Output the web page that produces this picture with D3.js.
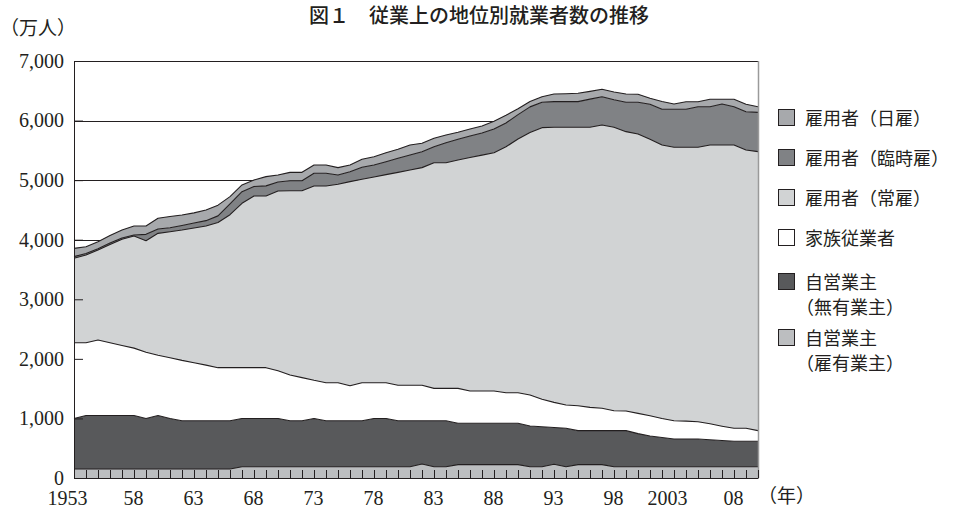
<!DOCTYPE html>
<html>
<head>
<meta charset="utf-8">
<script src="https://cdn.jsdelivr.net/npm/d3@7/dist/d3.min.js"></script>
<style>
  body { margin: 0; background: #fff; }
  svg { display: block; }
  text { font-family: "Liberation Serif", "Noto Sans CJK JP", serif; fill: #231f20; }
  .jp { font-family: "Noto Sans CJK JP", sans-serif; }
</style>
</head>
<body>
<svg id="chart" width="956" height="509"></svg>
<script>
// DATA (万人)
const years = [1953, 1954, 1955, 1956, 1957, 1958, 1959, 1960, 1961, 1962,
  1963, 1964, 1965, 1966, 1967, 1968, 1969, 1970, 1971, 1972,
  1973, 1974, 1975, 1976, 1977, 1978, 1979, 1980, 1981, 1982,
  1983, 1984, 1985, 1986, 1987, 1988, 1989, 1990, 1991, 1992,
  1993, 1994, 1995, 1996, 1997, 1998, 1999, 2000, 2001, 2002,
  2003, 2004, 2005, 2006, 2007, 2008, 2009, 2010];

// 自営業主（雇有業主）
const koyuGyoshu = [150, 150, 150, 150, 150, 150, 150, 150, 150, 150, 150, 150, 150, 150,
  190, 190, 190, 190, 190, 190, 190, 190, 190, 190, 190, 190, 190, 190, 190,
  235, 190, 190,
  225, 225, 225, 225, 225, 225,
  190, 190, 230, 190,
  225, 225, 225,
  190, 190, 190, 190, 190, 190, 190, 190, 190, 190, 190, 190, 190];

// 自営業主（無有業主）
const muyuGyoshu = [850, 900, 900, 900, 900, 900, 850, 900, 850, 810, 810, 810, 810, 810,
  810, 810, 810, 810, 770, 770, 810, 770, 770, 770, 770, 810, 810, 770, 770,
  725, 770, 770,
  695, 695, 695, 695, 695, 693,
  683, 670, 617, 644,
  570, 570, 570,
  605, 605, 555, 515, 490, 465, 465, 465, 452, 439, 426, 426, 426];

// 家族従業者
const kazoku = [1270, 1220, 1266, 1220, 1175, 1130, 1110, 1010, 1020, 1015, 975, 935, 892, 892,
  852, 852, 852, 800, 769, 725, 640, 640, 640, 590, 640, 600, 600, 596, 596,
  596, 545, 545,
  585, 540, 540, 540, 512, 514,
  520, 461, 423, 391,
  419, 391, 375,
  335, 330, 340, 340, 320, 307, 300, 290, 268, 241, 218, 218, 179];

// 雇用者（常雇）
const joyatoi = [1418, 1474, 1511, 1650, 1782, 1882, 1873, 2047, 2115, 2188, 2262, 2335, 2438, 2568,
  2759, 2882, 2882, 3018, 3094, 3138, 3262, 3302, 3330, 3425, 3414, 3453, 3492, 3575, 3614,
  3654, 3788, 3788,
  3833, 3920, 3960, 4000, 4128, 4258,
  4407, 4560, 4617, 4662,
  4673, 4701, 4756,
  4757, 4689, 4690, 4641, 4590, 4589, 4596, 4606, 4680, 4720, 4756, 4672, 4683];

// 雇用者（臨時雇）
const rinjiyatoi = [28, 26, 23, 25, 23, 18, 107, 73, 65, 77, 83, 90, 110, 180,
  195, 160, 170, 150, 168, 168, 213, 213, 156, 167, 202, 201, 218, 235, 252,
  268, 269, 336,
  347, 360, 370, 400, 400, 410,
  430, 426, 431, 431,
  431, 473, 475,
  463, 493, 532, 587, 599, 638, 638, 682, 643, 688, 643, 643, 660];

// 雇用者（日雇）
const hiyatoi = [139, 113, 117, 125, 133, 150, 140, 179, 190, 175, 170, 179, 180, 123,
  113, 109, 155, 118, 140, 140, 139, 139, 124, 112, 134, 140, 151, 151, 168,
  140, 140, 129,
  118, 120, 120, 130, 130, 100,
  90, 94, 128, 132,
  140, 130, 124,
  130, 139, 134, 101, 131, 89, 128, 84, 124, 79, 124, 124, 95];

const seriesKeys = ["koyu", "muyu", "kazoku", "joyatoi", "rinji", "hiyatoi"];
const seriesValues = [koyuGyoshu, muyuGyoshu, kazoku, joyatoi, rinjiyatoi, hiyatoi];
const seriesColors = ["#bcbec0", "#58595b", "#ffffff", "#d1d3d4", "#808285", "#a7a9ac"];

// legend, top to bottom
const legendKeys = ["hiyatoi", "rinji", "joyatoi", "kazoku", "muyu", "koyu"];
const legendLabels = [
  ["雇用者（日雇）"],
  ["雇用者（臨時雇）"],
  ["雇用者（常雇）"],
  ["家族従業者"],
  ["自営業主", "（無有業主）"],
  ["自営業主", "（雇有業主）"],
];

const yTicks = [0, 1000, 2000, 3000, 4000, 5000, 6000, 7000];
const xTickYears = [1953, 1958, 1963, 1968, 1973, 1978, 1983, 1988, 1993, 1998, 2003, 2008];
const xTickLabels = ["1953", "58", "63", "68", "73", "78", "83", "88", "93", "98", "2003", "08"];

const title = "図１　従業上の地位別就業者数の推移";

// CANVAS SETUP
const svg = d3.select("#chart");
const margin = { top: 61, right: 198, bottom: 31, left: 74 };
const width = +svg.attr("width") - margin.left - margin.right,
  height = +svg.attr("height") - margin.top - margin.bottom;

const g = svg.append("g").attr("transform", `translate(${margin.left},${margin.top})`);

const x = d3.scaleLinear().domain([1953, 2010]).range([0, width]);
const y = d3.scaleLinear().domain([0, 7000]).range([height, 0]);
const color = d3.scaleOrdinal().domain(seriesKeys).range(seriesColors);

const rows = years.map((yr, i) => {
  const r = { year: yr };
  seriesKeys.forEach((k, j) => (r[k] = seriesValues[j][i]));
  return r;
});

const stacked = d3.stack().keys(seriesKeys)(rows);

// gridlines (under areas)
g.append("g")
  .selectAll("line")
  .data(yTicks.filter((d) => d > 0))
  .join("line")
  .attr("x1", 0)
  .attr("x2", width)
  .attr("y1", (d) => Math.round(y(d)) + 0.5)
  .attr("y2", (d) => Math.round(y(d)) + 0.5)
  .attr("stroke", "#231f20")
  .attr("stroke-width", 1);

// areas
const area = d3
  .area()
  .x((d) => x(d.data.year))
  .y0((d) => y(d[0]))
  .y1((d) => y(d[1]));

g.append("g")
  .selectAll("path")
  .data(stacked)
  .join("path")
  .attr("fill", (d) => color(d.key))
  .attr("d", area);

const topLine = d3
  .line()
  .x((d) => x(d.data.year))
  .y((d) => y(d[1]));

g.append("g")
  .selectAll("path")
  .data(stacked)
  .join("path")
  .attr("fill", "none")
  .attr("stroke", "#231f20")
  .attr("stroke-width", 1.1)
  .attr("stroke-linejoin", "round")
  .attr("d", topLine);

// right border
g.append("line")
  .attr("x1", width + 0.5)
  .attr("x2", width + 0.5)
  .attr("y1", 0)
  .attr("y2", height)
  .attr("stroke", "#9a9a9a")
  .attr("stroke-width", 1.5);

// x axis: a tick every year, pointing up
const xAxisTicks = g
  .append("g")
  .attr("transform", `translate(0,${height})`)
  .call(d3.axisBottom(x).tickValues(years).tickSize(-8).tickSizeOuter(0).tickFormat(""));
xAxisTicks.selectAll("line, path").attr("stroke", "#231f20");

const xAxisLabels = g
  .append("g")
  .attr("transform", `translate(0,${height})`)
  .call(
    d3
      .axisBottom(x)
      .tickValues(xTickYears)
      .tickSize(0)
      .tickPadding(13)
      .tickFormat((d, i) => xTickLabels[i])
  );
xAxisLabels.select(".domain").remove();
xAxisLabels
  .selectAll("text")
  .attr("font-size", 20)
  .attr("font-family", null)
  .attr("dx", (d, i) => (xTickLabels[i].length > 2 ? -7 : -1));

// y axis, inward ticks
const yAxis = g
  .append("g")
  .call(
    d3
      .axisLeft(y)
      .tickValues(yTicks)
      .tickSize(-9)
      .tickSizeOuter(0)
      .tickPadding(10)
      .tickFormat(d3.format(","))
  );
yAxis.selectAll("line, path").attr("stroke", "#231f20");
yAxis.selectAll("text").attr("font-size", 20).attr("font-family", null);

// unit labels
svg
  .append("text")
  .attr("class", "jp")
  .attr("x", 0)
  .attr("y", 35)
  .attr("font-size", 19)
  .text("（万人）");

svg
  .append("text")
  .attr("class", "jp")
  .attr("x", 758)
  .attr("y", 503)
  .attr("font-size", 19)
  .text("（年）");

// title
svg
  .append("text")
  .attr("class", "jp")
  .attr("x", 479)
  .attr("y", 23)
  .attr("text-anchor", "middle")
  .attr("font-size", 20)
  .attr("font-weight", 500)
  .text(title);

// legend
const legendY = [118, 158, 198, 238, 282, 338];
const legend = svg
  .append("g")
  .selectAll("g")
  .data(legendKeys)
  .join("g")
  .attr("transform", (d, i) => `translate(778,${legendY[i]})`);

legend
  .append("rect")
  .attr("x", 0.5)
  .attr("y", -8.5)
  .attr("width", 16)
  .attr("height", 16)
  .attr("fill", (d) => color(d))
  .attr("stroke", "#231f20")
  .attr("stroke-width", 1);

// two-line labels are separate texts, one per line
legend.each(function (d, i) {
  d3.select(this)
    .selectAll("text")
    .data(legendLabels[i])
    .join("text")
    .attr("font-size", 18)
    .attr("x", (t) => (t.startsWith("（") ? 18 : 27))
    .attr("y", (t, j) => 7 + j * 25)
    .text((t) => t);
});
</script>
</body>
</html>
